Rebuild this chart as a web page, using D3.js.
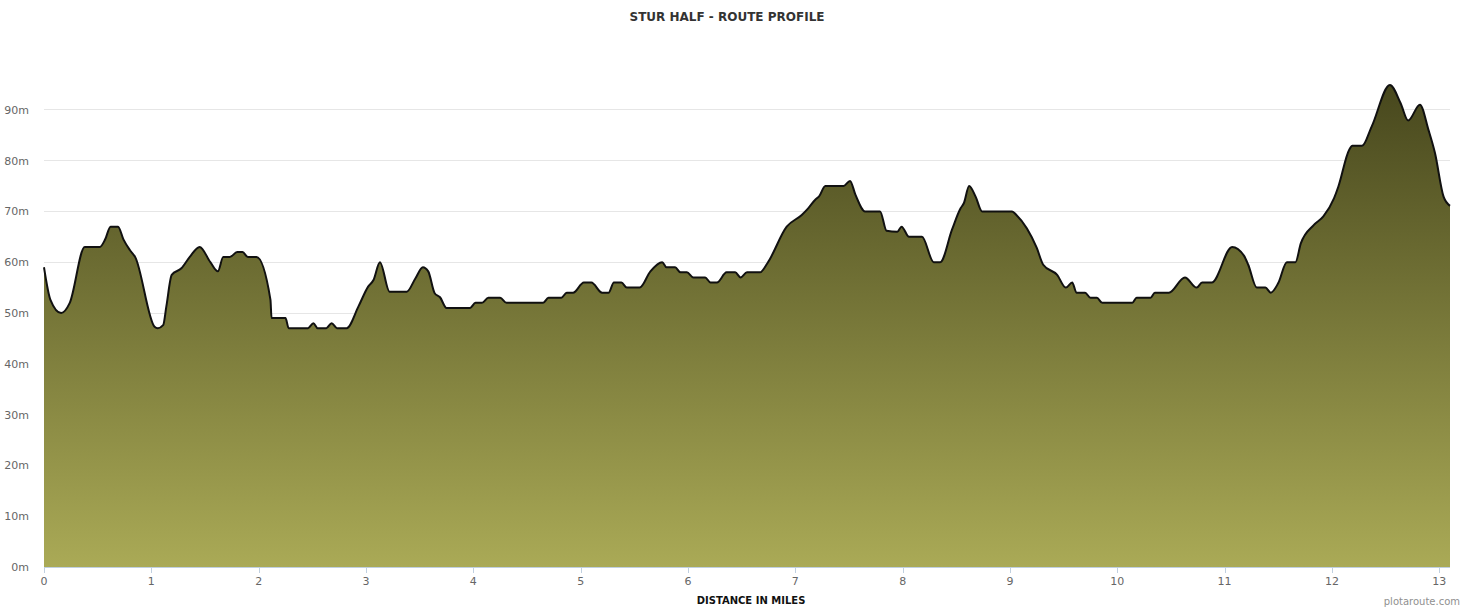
<!DOCTYPE html>
<html><head><meta charset="utf-8">
<script src="https://cdn.jsdelivr.net/npm/d3@7"></script>
<style>body{margin:0;background:#fff;} svg{display:block;font-family:"DejaVu Sans",Verdana,sans-serif;}</style>
</head><body>
<svg id="c" width="1470" height="610"></svg>
<script>
const title = "STUR HALF - ROUTE PROFILE";
const xTitle = "DISTANCE IN MILES";
const credit = "plotaroute.com";
const distance = [0.00,0.06,0.16,0.24,0.38,0.52,0.57,0.62,0.69,0.74,0.80,0.85,1.03,1.06,1.11,1.14,1.19,1.28,1.36,1.45,1.55,1.62,1.67,1.73,1.80,1.85,1.90,1.98,2.11,2.12,2.25,2.28,2.46,2.51,2.55,2.63,2.68,2.73,2.82,2.93,3.02,3.07,3.13,3.22,3.38,3.46,3.53,3.58,3.64,3.69,3.75,3.97,4.02,4.08,4.14,4.25,4.31,4.65,4.70,4.82,4.87,4.93,5.03,5.10,5.20,5.26,5.31,5.38,5.43,5.55,5.65,5.76,5.80,5.88,5.93,5.99,6.05,6.16,6.21,6.27,6.36,6.44,6.49,6.55,6.67,6.74,6.92,7.06,7.12,7.19,7.22,7.28,7.45,7.51,7.56,7.65,7.79,7.85,7.95,7.99,8.06,8.18,8.29,8.35,8.46,8.54,8.57,8.62,8.68,8.74,9.02,9.06,9.25,9.31,9.44,9.52,9.58,9.62,9.70,9.75,9.81,9.86,10.14,10.18,10.31,10.35,10.48,10.63,10.74,10.79,10.88,11.07,11.18,11.22,11.30,11.38,11.43,11.50,11.58,11.66,11.71,11.83,11.92,12.02,12.06,12.16,12.19,12.28,12.37,12.54,12.64,12.71,12.82,12.90,12.96,13.04,13.10];
const elevation = [59,52.6,50,52,63,63,64.5,67,67,64.5,62.4,61,47.3,47,47.6,51.3,57.5,58.8,61.1,63,60,58.2,61,61,62,62,61,61,52.6,49,49,47,47,48,47,47,48,47,47,51.3,55.2,56.5,60,54.2,54.2,56.8,59,58.2,53.9,53.1,51,51,52,52,53,53,52,52,53,53,54,54,56,56,54,54,56,56,55,55,58.2,60,59,59,58,58,57,57,56,56,58,58,57,58,58,59.8,67,69.3,70.6,72.4,72.9,75,75,76,73.3,70,70,66.2,66,67,65,65,60,60,66.4,70.6,71.6,75,72.9,70,70,69.3,62.8,59.5,57.5,55,56,54,54,53,53,52,52,53,53,54,54,57,55,56,56,63,61.3,59.5,55,55,54,55.9,60,60,63.7,67.3,69,72.6,74.9,82.1,82.9,82.9,86.7,94.9,91.3,87.9,91,86,81.5,72.9,71.1];
const yTicks = [0,10,20,30,40,50,60,70,80,90];
const xTicks = [0,1,2,3,4,5,6,7,8,9,10,11,12,13];

const svg = d3.select("#c");
const L = 44, R = 1450, T = 59, B = 567;
const x = d3.scaleLinear().domain([0, 13.1]).range([L, R]);
const y = d3.scaleLinear().domain([0, 100]).range([B, T]);
const data = distance.map((d, i) => ({d, e: elevation[i]}));

const defs = svg.append("defs");
const g = defs.append("linearGradient").attr("id", "grad")
  .attr("gradientUnits", "userSpaceOnUse").attr("x1", 0).attr("x2", 0).attr("y1", T).attr("y2", B);
g.append("stop").attr("offset", "0%").attr("stop-color", "#42421a");
g.append("stop").attr("offset", "100%").attr("stop-color", "#aaaa56");

// gridlines
svg.append("g").selectAll("line").data(yTicks.filter(t => t > 0)).join("line")
  .attr("x1", L).attr("x2", R).attr("y1", d => y(d)).attr("y2", d => y(d))
  .attr("stroke", "#e6e6e6").attr("stroke-width", 1).attr("shape-rendering", "crispEdges");

// y labels
svg.append("g").selectAll("text").data(yTicks).join("text")
  .attr("x", 29).attr("y", d => y(d) + 4).attr("text-anchor", "end")
  .attr("fill", "#666").attr("font-size", 11).text(d => d + "m");

const curve = d3.curveMonotoneX;
svg.append("path").datum(data)
  .attr("d", d3.area().x(d => x(d.d)).y0(B).y1(d => y(d.e)).curve(curve))
  .attr("fill", "url(#grad)");
svg.append("path").datum(data)
  .attr("d", d3.line().x(d => x(d.d)).y(d => y(d.e)).curve(curve))
  .attr("fill", "none").attr("stroke", "#111").attr("stroke-width", 2).attr("stroke-linejoin", "round");

// x axis
svg.append("line").attr("x1", L).attr("x2", R).attr("y1", B + 0.5).attr("y2", B + 0.5).attr("stroke", "#c0d0e0");
svg.append("g").selectAll("line").data(xTicks).join("line")
  .attr("x1", d => Math.round(x(d)) + 0.5).attr("x2", d => Math.round(x(d)) + 0.5)
  .attr("y1", B).attr("y2", B + 6).attr("stroke", "#c0d0e0");
svg.append("g").selectAll("text").data(xTicks).join("text")
  .attr("x", d => x(d)).attr("y", B + 18).attr("text-anchor", "middle")
  .attr("fill", "#666").attr("font-size", 11).text(d => d);

svg.append("text").attr("x", 751).attr("y", 604).attr("text-anchor", "middle")
  .attr("font-size", 10).attr("font-weight", "bold").attr("fill", "#111").text(xTitle);
svg.append("text").attr("x", 727).attr("y", 21).attr("text-anchor", "middle")
  .attr("font-size", 12).attr("font-weight", "bold").attr("fill", "#333").text(title);
svg.append("text").attr("x", 1460).attr("y", 605).attr("text-anchor", "end")
  .attr("font-size", 10).attr("fill", "#909090").text(credit);
</script>
</body></html>
